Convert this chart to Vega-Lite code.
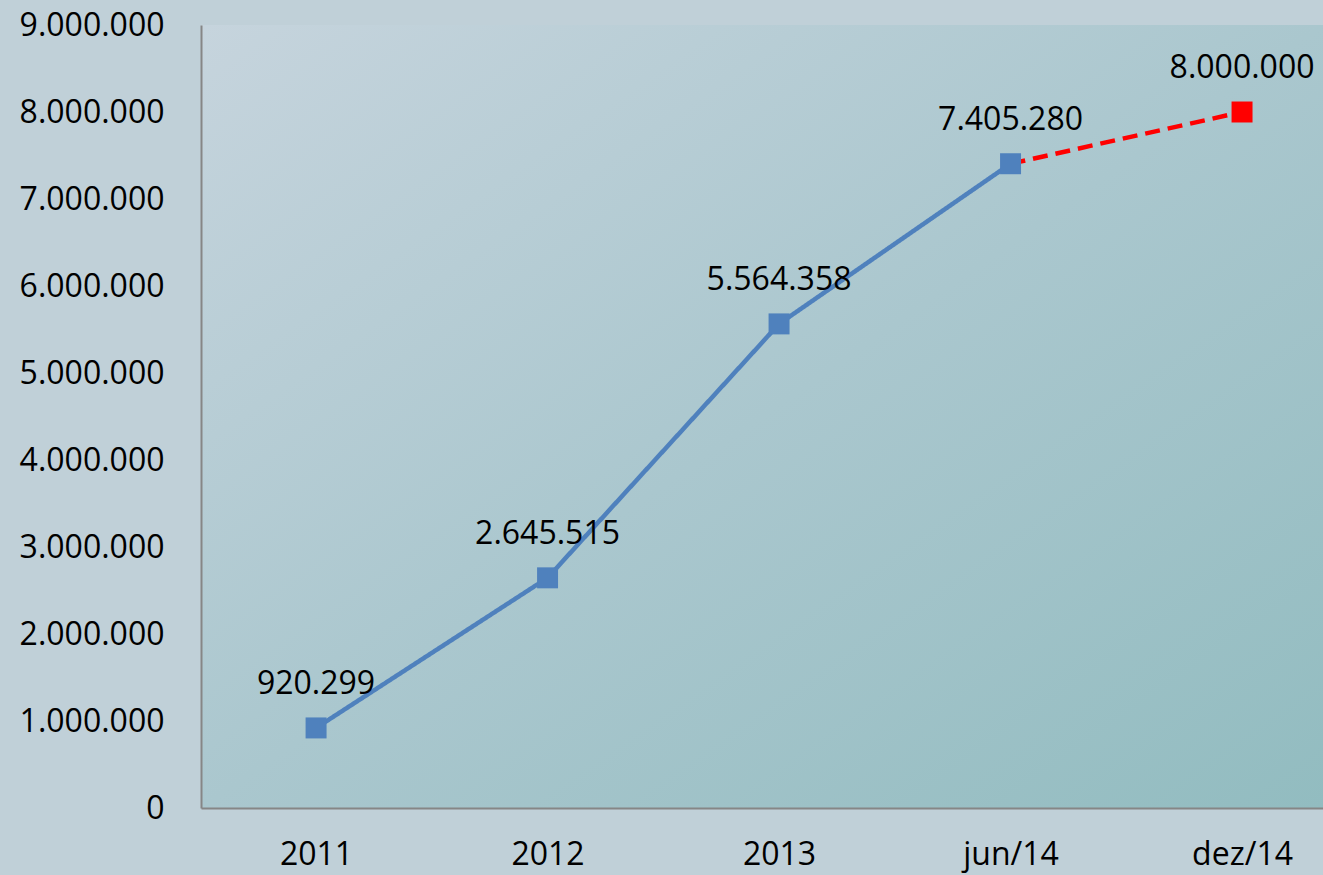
{
  "$schema": "https://vega.github.io/schema/vega-lite/v6.json",
  "autosize": {"type": "none"},
  "padding": {"left": 201, "top": 25, "right": 0, "bottom": 67},
  "width": 1122,
  "height": 783,
  "background": "#c0d0d8",
  "config": {
    "locale": {"number": {"decimal": ",", "thousands": ".", "grouping": [3], "currency": ["", ""]}},
    "view": {"stroke": null, "fill": {"gradient": "linear", "x1": 0, "y1": 0, "x2": 1, "y2": 1, "stops": [{"offset": 0, "color": "#c6d4dd"}, {"offset": 0.5, "color": "#aac7ce"}, {"offset": 1, "color": "#92bcc0"}]}},
    "font": "Open Sans"
  },
  "data": {
    "values": [
      {"period": "2011", "value": 920299, "series": "real"},
      {"period": "2012", "value": 2645515, "series": "real"},
      {"period": "2013", "value": 5564358, "series": "real"},
      {"period": "jun/14", "value": 7405280, "series": "real"},
      {"period": "jun/14", "value": 7405280, "series": "proj"},
      {"period": "dez/14", "value": 8000000, "series": "proj"}
    ]
  },
  "encoding": {
    "x": {
      "field": "period", "type": "nominal", "sort": null,
      "scale": {"type": "point", "padding": 0.4234, "align": 0.587},
      "axis": {"title": null, "labelAngle": 0, "ticks": false, "grid": false, "domainColor": "#868686", "domainWidth": 2, "labelFont": "Open Sans", "labelFontSize": 32, "labelColor": "#000000", "labelPadding": 31}
    },
    "y": {
      "field": "value", "type": "quantitative",
      "scale": {"domain": [0, 9000000], "nice": false},
      "axis": {"title": null, "values": [0, 1000000, 2000000, 3000000, 4000000, 5000000, 6000000, 7000000, 8000000, 9000000], "format": ",d", "ticks": false, "grid": false, "domainColor": "#868686", "domainWidth": 2, "labelFont": "Open Sans", "labelFontSize": 32, "labelColor": "#000000", "labelPadding": 37}
    },
    "color": {"field": "series", "type": "nominal", "scale": {"domain": ["real", "proj"], "range": ["#4f81bd", "#ff0000"]}, "legend": null}
  },
  "layer": [
    {
      "mark": {"type": "line", "strokeWidth": 4.5},
      "encoding": {
        "detail": {"field": "series"},
        "strokeDash": {"field": "series", "type": "nominal", "scale": {"domain": ["real", "proj"], "range": [[1, 0], [15, 8]]}, "legend": null}
      }
    },
    {
      "transform": [{"filter": "datum.series == 'real' || datum.period == 'dez/14'"}],
      "mark": {"type": "square", "size": 440, "opacity": 1, "filled": true}
    },
    {
      "transform": [{"filter": "datum.series == 'real' || datum.period == 'dez/14'"}],
      "mark": {"type": "text", "dy": -44, "baseline": "middle", "align": "center", "fontSize": 32, "font": "Open Sans", "color": "#000000"},
      "encoding": {
        "text": {"field": "value", "type": "quantitative", "format": ",d"},
        "color": {"value": "#000000"}
      }
    }
  ]
}
